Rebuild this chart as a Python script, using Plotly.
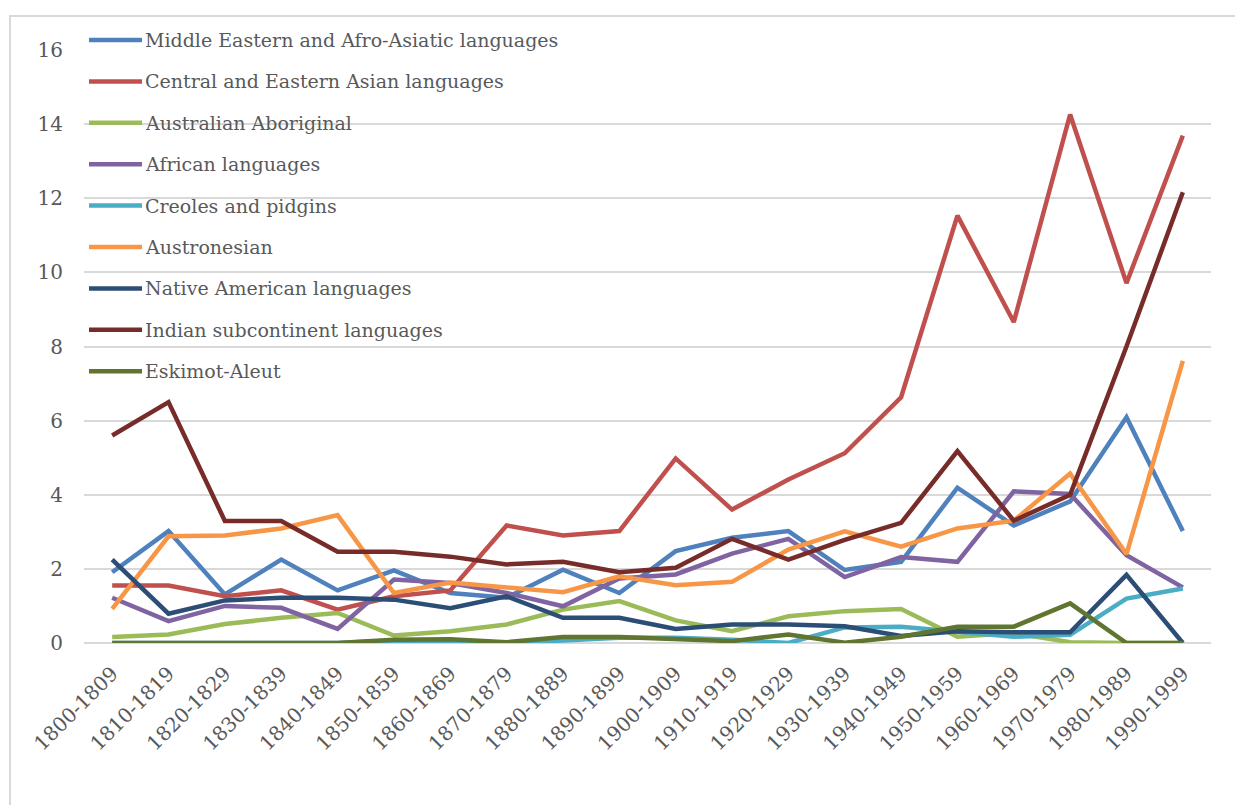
import plotly.graph_objects as go

categories = ["1800-1809", "1810-1819", "1820-1829", "1830-1839", "1840-1849",
              "1850-1859", "1860-1869", "1870-1879", "1880-1889", "1890-1899",
              "1900-1909", "1910-1919", "1920-1929", "1930-1939", "1940-1949",
              "1950-1959", "1960-1969", "1970-1979", "1980-1989", "1990-1999"]

middle_eastern = [1.91, 3.02, 1.31, 2.25, 1.42, 1.96, 1.35, 1.22, 1.98, 1.35,
                  2.48, 2.84, 3.02, 1.97, 2.19, 4.19, 3.17, 3.82, 6.09, 3.02]
central_eastern_asian = [1.55, 1.55, 1.26, 1.42, 0.90, 1.26, 1.42, 3.17, 2.90, 3.02,
                         4.98, 3.60, 4.41, 5.12, 6.63, 11.53, 8.66, 14.26, 9.71, 13.69]
australian_aboriginal = [0.16, 0.23, 0.51, 0.68, 0.81, 0.20, 0.32, 0.50, 0.90, 1.13,
                         0.61, 0.32, 0.72, 0.86, 0.92, 0.17, 0.27, 0.02, 0.0, 0.0]
african = [1.22, 0.59, 1.00, 0.95, 0.38, 1.71, 1.62, 1.35, 0.99, 1.74,
           1.85, 2.41, 2.81, 1.78, 2.32, 2.19, 4.09, 4.02, 2.37, 1.50]
creoles_pidgins = [0.0, 0.0, 0.0, 0.0, 0.0, 0.07, 0.02, 0.0, 0.07, 0.14,
                   0.14, 0.09, 0.0, 0.42, 0.44, 0.30, 0.17, 0.22, 1.20, 1.47]
austronesian = [0.92, 2.88, 2.90, 3.09, 3.45, 1.35, 1.63, 1.49, 1.37, 1.80,
                1.56, 1.65, 2.52, 3.01, 2.60, 3.09, 3.30, 4.57, 2.40, 7.61]
native_american = [2.25, 0.79, 1.15, 1.22, 1.22, 1.17, 0.94, 1.26, 0.68, 0.68,
                   0.38, 0.50, 0.50, 0.45, 0.19, 0.32, 0.29, 0.29, 1.84, 0.0]
indian_subcontinent = [5.60, 6.50, 3.29, 3.29, 2.46, 2.46, 2.33, 2.12, 2.19, 1.91,
                       2.03, 2.81, 2.25, 2.78, 3.24, 5.18, 3.30, 4.00, 8.00, 12.16]
eskimo_aleut = [0.0, 0.0, 0.0, 0.0, 0.0, 0.09, 0.10, 0.02, 0.16, 0.16,
                0.11, 0.05, 0.23, 0.01, 0.17, 0.44, 0.44, 1.07, 0.0, 0.0]

series_names = ["Middle Eastern and Afro-Asiatic languages",
                "Central and Eastern Asian languages",
                "Australian Aboriginal",
                "African languages",
                "Creoles and pidgins",
                "Austronesian",
                "Native American languages",
                "Indian subcontinent languages",
                "Eskimot-Aleut"]
series_values = [middle_eastern, central_eastern_asian, australian_aboriginal, african,
                 creoles_pidgins, austronesian, native_american, indian_subcontinent,
                 eskimo_aleut]
series_colors = ["#4F81BD", "#C0504D", "#9BBB59", "#8064A2", "#4BACC6",
                 "#F79646", "#2C4D75", "#772C2A", "#5F7530"]

y_ticks = [0, 2, 4, 6, 8, 10, 12, 14, 16]

# page body has an 8px margin, so figure coords = screen coords - 8
OFF = 8
W, H = 1243, 805
ML, MR, MT, MB = 84 - OFF, 40, 50 - OFF, 170
PW = W - ML - MR
PH = H - MT - MB


def px_x(x):
    return (x - OFF - ML) / PW


def px_y(y):
    return (H - MB - (y - OFF)) / PH


FONT = "DejaVu Serif"
TXT = "#595959"

fig = go.Figure()
for name, vals, col in zip(series_names, series_values, series_colors):
    fig.add_trace(go.Scatter(x=categories, y=vals, name=name, mode="lines",
                             line=dict(color=col, width=4.5), showlegend=False))

shapes = []
annotations = []
# outer chart border (cut off at right and bottom like the reference)
shapes.append(dict(type="rect", xref="paper", yref="paper",
                   x0=px_x(10), x1=px_x(1300), y0=px_y(16), y1=px_y(900),
                   line=dict(color="#D9D9D9", width=2), fillcolor="rgba(0,0,0,0)",
                   layer="below"))
# legend drawn manually
leg_y0, leg_dy = 40, 41.4
for i, (name, col) in enumerate(zip(series_names, series_colors)):
    yy = leg_y0 + i * leg_dy
    shapes.append(dict(type="line", xref="paper", yref="paper",
                       x0=px_x(89), x1=px_x(142), y0=px_y(yy), y1=px_y(yy),
                       line=dict(color=col, width=4.5)))
    annotations.append(dict(xref="paper", yref="paper", x=px_x(143), y=px_y(yy),
                            xanchor="left", yanchor="middle", text=name,
                            showarrow=False,
                            font=dict(family=FONT, size=19, color=TXT)))

fig.update_layout(
    width=W, height=H,
    margin=dict(l=ML, r=MR, t=MT, b=MB),
    paper_bgcolor="white", plot_bgcolor="white",
    shapes=shapes, annotations=annotations,
    xaxis=dict(type="category", categoryorder="array", categoryarray=categories,
               range=[-0.5, len(categories) - 0.5],
               showgrid=False, showline=False, zeroline=False, ticks="",
               tickangle=-45, ticklabelstandoff=14,
               tickfont=dict(family=FONT, size=20, color=TXT)),
    yaxis=dict(range=[0, 16], tickvals=y_ticks, showgrid=True,
               gridcolor="#D9D9D9", gridwidth=2, zeroline=True,
               zerolinecolor="#D9D9D9", zerolinewidth=2, showline=False,
               ticklabelstandoff=20,
               tickfont=dict(family=FONT, size=20, color=TXT)),
)

fig.write_html("out.html")
